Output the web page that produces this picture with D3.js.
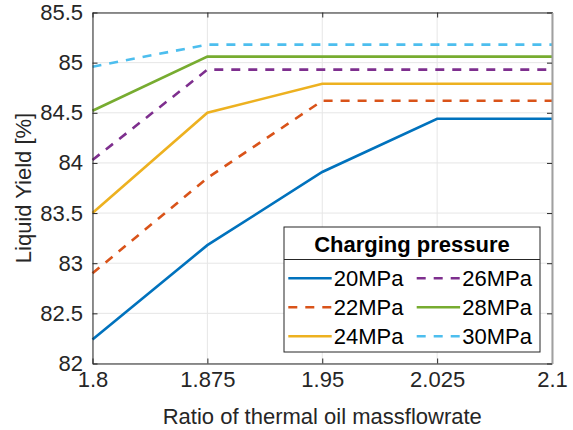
<!DOCTYPE html>
<html>
<head>
<meta charset="utf-8">
<script src="https://cdn.jsdelivr.net/npm/d3@7"></script>
<style>
  body { margin: 0; background: #fff; }
  svg { font-family: "Liberation Sans", Arial, sans-serif; }
</style>
</head>
<body>
<div id="chart"></div>
<script>
// Datos
const ratios = [1.8, 1.875, 1.95, 2.025, 2.1];
const yield20 = [82.24, 83.18, 83.91, 84.44, 84.44];
const yield22 = [82.90, 83.85, 84.62, 84.62, 84.62];
const yield24 = [83.50, 84.50, 84.79, 84.79, 84.79];
const yield26 = [84.03, 84.93, 84.93, 84.93, 84.93];
const yield28 = [84.52, 85.06, 85.06, 85.06, 85.06];
const yield30 = [84.96, 85.18, 85.18, 85.18, 85.18];
const seriesNames = ['20MPa', '22MPa', '24MPa', '26MPa', '28MPa', '30MPa'];
const yTicks = [82, 82.5, 83, 83.5, 84, 84.5, 85, 85.5];

const series = [
  {name: seriesNames[0], values: yield20, color: '#0072BD', dash: null},
  {name: seriesNames[1], values: yield22, color: '#D95319', dash: '9,8'},
  {name: seriesNames[2], values: yield24, color: '#EDB120', dash: null},
  {name: seriesNames[3], values: yield26, color: '#7E2F8E', dash: '9,8'},
  {name: seriesNames[4], values: yield28, color: '#77AC30', dash: null},
  {name: seriesNames[5], values: yield30, color: '#4DBEEE', dash: '9,8'}
];

const W = 573, H = 430;
const margin = {top: 12.5, right: 21, bottom: 66.5, left: 92.5};
const width = W - margin.left - margin.right;
const height = H - margin.top - margin.bottom;
const fs = "22px";

const svg = d3.select("#chart").append("svg")
  .attr("width", W).attr("height", H);
const g = svg.append("g")
  .attr("transform", `translate(${margin.left},${margin.top})`);

const x = d3.scaleLinear().domain([1.8, 2.1]).range([0, width]);
const y = d3.scaleLinear().domain([82, 85.5]).range([height, 0]);

// Rejilla
g.append("g").selectAll("line").data(ratios).join("line")
  .attr("x1", d => x(d)).attr("x2", d => x(d))
  .attr("y1", 0).attr("y2", height)
  .attr("stroke", "#e6e6e6").attr("stroke-width", 1);
g.append("g").selectAll("line").data(yTicks).join("line")
  .attr("y1", d => y(d)).attr("y2", d => y(d))
  .attr("x1", 0).attr("x2", width)
  .attr("stroke", "#e6e6e6").attr("stroke-width", 1);

// Líneas de datos
const line = d3.line().x((d, i) => x(ratios[i])).y(d => y(d));
series.forEach(s => {
  g.append("path")
    .datum(s.values)
    .attr("fill", "none")
    .attr("stroke", s.color)
    .attr("stroke-width", 2.6)
    .attr("stroke-dasharray", s.dash)
    .attr("d", line);
});

// Ejes (ticks hacia dentro)
const axisColor = "#262626";
const fmt = d => d3.format("")(d);
const xAxis = g.append("g").attr("transform", `translate(0,${height})`)
  .call(d3.axisBottom(x).tickValues(ratios).tickSizeInner(-5).tickSizeOuter(0).tickPadding(8).tickFormat(fmt));
const xTop = g.append("g")
  .call(d3.axisTop(x).tickValues(ratios).tickSizeInner(-5).tickSizeOuter(0).tickFormat(""));
const yAxis = g.append("g")
  .call(d3.axisLeft(y).tickValues(yTicks).tickSizeInner(-5).tickSizeOuter(0).tickPadding(9.5).tickFormat(fmt));
const yRight = g.append("g").attr("transform", `translate(${width},0)`)
  .call(d3.axisRight(y).tickValues(yTicks).tickSizeInner(-5).tickSizeOuter(0).tickFormat(""));

[xAxis, xTop, yAxis, yRight].forEach(a => {
  a.select(".domain").attr("stroke", axisColor).attr("stroke-width", 1);
  a.selectAll(".tick line").attr("stroke", axisColor);
  a.selectAll("text").attr("fill", axisColor).style("font-size", fs);
});
yRight.select(".domain").attr("stroke", "#a0a0a0").attr("stroke-width", 2);

// Etiquetas de ejes
svg.append("text")
  .attr("x", margin.left + width / 2)
  .attr("y", 424)
  .attr("text-anchor", "middle")
  .attr("fill", axisColor)
  .style("font-size", fs)
  .text("Ratio of thermal oil massflowrate");

svg.append("text")
  .attr("transform", `translate(31,${margin.top + height / 2}) rotate(-90)`)
  .attr("text-anchor", "middle")
  .attr("fill", axisColor)
  .style("font-size", fs)
  .text("Liquid Yield [%]");

// Leyenda
const lg = svg.append("g").attr("transform", "translate(284,227)");
const lgW = 256, lgH = 125;
lg.append("rect")
  .attr("width", lgW).attr("height", lgH)
  .attr("fill", "#fff").attr("stroke", axisColor).attr("stroke-width", 1);
lg.append("line")
  .attr("x1", 0).attr("x2", lgW).attr("y1", 32.5).attr("y2", 32.5)
  .attr("stroke", axisColor).attr("stroke-width", 1);
lg.append("text")
  .attr("x", lgW / 2).attr("y", 25)
  .attr("text-anchor", "middle")
  .style("font-size", fs).style("font-weight", "bold")
  .attr("fill", "#000")
  .text("Charging pressure");

series.forEach((s, i) => {
  const col = Math.floor(i / 3), row = i % 3;
  const gx = 4.3 + col * 128.4, gy = 51.3 + row * 29;
  lg.append("line")
    .attr("x1", gx).attr("x2", gx + 43.4)
    .attr("y1", gy).attr("y2", gy)
    .attr("stroke", s.color).attr("stroke-width", 2.6)
    .attr("stroke-dasharray", s.dash);
  lg.append("text")
    .attr("x", gx + 45.5).attr("y", gy + 7.5)
    .style("font-size", fs)
    .attr("fill", "#000")
    .text(s.name);
});
</script>
</body>
</html>
